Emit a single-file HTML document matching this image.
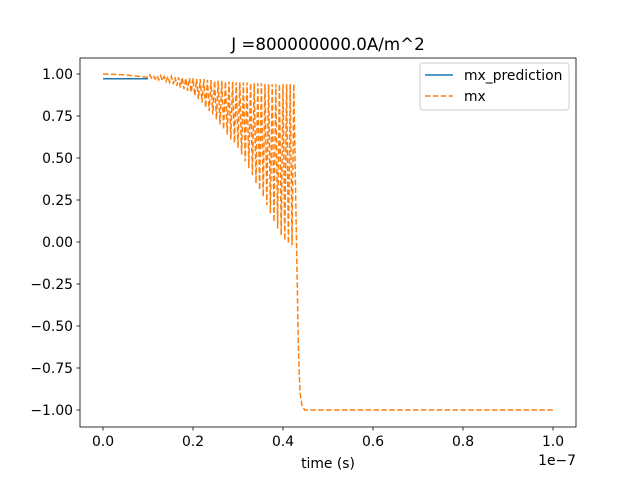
<!DOCTYPE html>
<html><head><meta charset="utf-8"><style>
body{margin:0;background:#fff;position:relative;width:640px;height:480px;overflow:hidden}
svg text{font-family:"DejaVu Sans","Liberation Sans",sans-serif;}
</style></head><body>
<svg id="chart" width="640" height="480" xmlns="http://www.w3.org/2000/svg">
<rect width="640" height="480" fill="#fff"/>
<g id="plot"></g>
</svg>
<script>
// data (time in units of 1e-8 s)
const xTicks = [0, 0.2, 0.4, 0.6, 0.8, 1.0];
const xTickLabels = ["0.0", "0.2", "0.4", "0.6", "0.8", "1.0"];
const yTicks = [1.0, 0.75, 0.5, 0.25, 0, -0.25, -0.5, -0.75, -1.0];
const yTickLabels = ["1.00", "0.75", "0.50", "0.25", "0.00", "−0.25", "−0.50", "−0.75", "−1.00"];
const predT = [0, 1.0];
const predV = [0.972, 0.972];
const startT = [0, 0.5];
const startV = [1.0, 0.995];
const troughT = [1.0,1.08,1.16,1.24,1.32,1.40,1.48,1.56,1.64,1.72,1.80,1.88,1.96,2.04,2.12,2.20,2.28,2.36,2.44,2.52,2.60,2.68,2.76,2.84,2.92,3.00,3.08,3.16,3.24,3.32,3.40,3.48,3.56,3.64,3.72,3.80,3.88,3.96,4.04,4.12,4.20];
const troughV = [0.98,0.975,0.97,0.965,0.96,0.955,0.95,0.94,0.93,0.92,0.91,0.90,0.89,0.87,0.85,0.83,0.80,0.78,0.76,0.73,0.70,0.67,0.64,0.61,0.59,0.56,0.52,0.48,0.44,0.40,0.35,0.31,0.27,0.22,0.17,0.12,0.08,0.04,0.01,-0.01,-0.02];
const peakV = [0.995,0.99,0.99,0.99,0.985,0.985,0.985,0.98,0.98,0.98,0.975,0.975,0.975,0.97,0.97,0.97,0.965,0.965,0.96,0.96,0.96,0.955,0.955,0.955,0.95,0.95,0.95,0.95,0.945,0.945,0.945,0.945,0.94,0.94,0.94,0.94,0.94,0.94,0.94,0.94,0.94];
const endT = [4.28, 4.30, 4.32, 4.34, 4.36, 4.38, 4.42, 4.48, 6, 8, 10];
const endV = [0.3, 0.0, -0.3, -0.6, -0.78, -0.9, -0.97, -1.0, -1.0, -1.0, -1.0];

const L=80, R=576, T=58, B=427;
const X = t => 103 + t/10*450;
const Y = v => 242 - v*168;
const g = document.getElementById('plot');
const NS = 'http://www.w3.org/2000/svg';
function mk(tag, attrs, parent){const e=document.createElementNS(NS,tag);for(const k in attrs)e.setAttribute(k,attrs[k]);(parent||g).appendChild(e);return e;}

const pts=[];
startT.forEach((t,i)=>pts.push([t,startV[i]]));
troughT.forEach((t,i)=>{pts.push([t,troughV[i]]);pts.push([t+0.04,peakV[i]]);});
endT.forEach((t,i)=>pts.push([t,endV[i]]));

const bl = mk('polyline',{points:predT.map((t,i)=>X(t)+','+Y(predV[i])).join(' '),fill:'none',stroke:'#1f77b4','stroke-width':1.5});


const ol = mk('polyline',{points:pts.map(p=>X(p[0])+','+Y(p[1])).join(' '),fill:'none',stroke:'#ff7f0e','stroke-width':1.5,'stroke-dasharray':'5.5,2.4'});



const fr = mk('rect',{x:L,y:T,width:R-L,height:B-T,fill:'none',stroke:'#000','stroke-width':0.8});



xTicks.forEach((v,i)=>{
  const x=103+v*450;
  mk('line',{x1:x,x2:x,y1:B,y2:B+3.5,stroke:'#000','stroke-width':0.8});
  const t=mk('text',{x:x,y:B+19,'font-size':13.9,'text-anchor':'middle'});
  t.textContent=xTickLabels[i];
  
  
});
yTicks.forEach((v,i)=>{
  const y=Y(v);
  mk('line',{x1:L-3.5,x2:L,y1:y,y2:y,stroke:'#000','stroke-width':0.8});
  const t=mk('text',{x:L-7,y:y+5,'font-size':13.9,'text-anchor':'end'});
  t.textContent=yTickLabels[i];
  
  
});
</script>
<svg style="position:absolute;left:0;top:0" width="640" height="480" xmlns="http://www.w3.org/2000/svg">
<text x="328" y="50" font-size="16.7" text-anchor="middle">J =800000000.0A/m^2</text>
<text x="328" y="468" font-size="13.9" text-anchor="middle">time (s)</text>
<text x="576" y="465" font-size="13.9" text-anchor="end">1e−7</text>
<g>
<rect x="420" y="63" width="149" height="47" rx="3" fill="#fff" fill-opacity="0.8" stroke="#ccc" stroke-width="1"/>
<line x1="425" y1="75" x2="453" y2="75" stroke="#1f77b4" stroke-width="1.5"/>
<text x="464" y="80" font-size="13.9">mx_prediction</text>
<line x1="425" y1="96" x2="453" y2="96" stroke="#ff7f0e" stroke-width="1.5" stroke-dasharray="5.5,2.4"/>
<text x="464" y="101" font-size="13.9">mx</text>
</g>
</svg>
</body></html>
